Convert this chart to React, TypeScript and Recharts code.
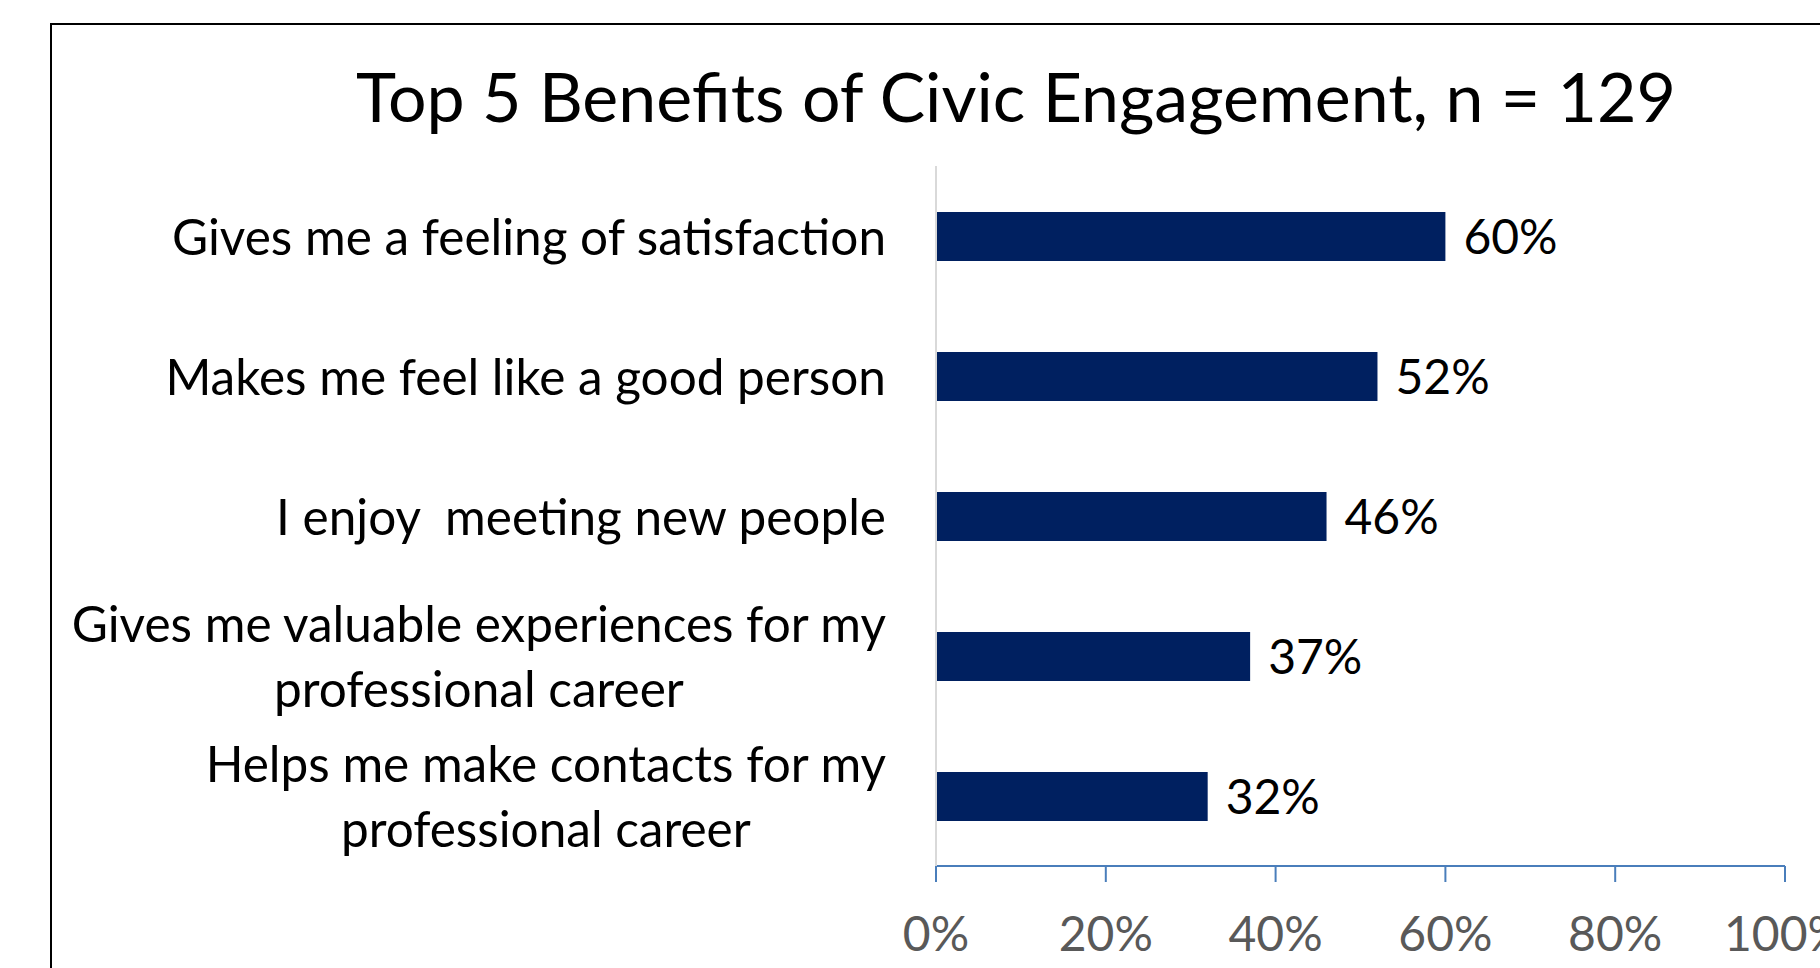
import React from 'react'
import { BarChart, Bar, XAxis, YAxis, LabelList } from 'recharts'

const categories = [
  'Gives me a feeling of satisfaction',
  'Makes me feel like a good person',
  'I enjoy  meeting new people',
  'Gives me valuable experiences for my\nprofessional career',
  'Helps me make contacts for my\nprofessional career',
]
const shares = [60, 52, 46, 37, 32]
const xTicks = [0, 20, 40, 60, 80, 100]

const FONT = 'Lato, "Open Sans", sans-serif'
const BAR_COLOR = '#002060'

const data = categories.map((name, i) => ({ name, value: shares[i] }))

const CategoryTick = (props: any) => {
  const { x, y, payload } = props
  return (
    <foreignObject x={x - 860} y={y - 80} width={860} height={160}>
      <div
        style={{
          display: 'flex',
          alignItems: 'center',
          justifyContent: 'flex-end',
          height: '100%',
          width: '100%',
        }}
      >
        <div
          style={{
            textAlign: 'center',
            whiteSpace: 'pre',
            fontFamily: FONT,
            fontSize: 49.5,
            lineHeight: '65px',
            color: '#000',
          }}
        >
          {payload.value}
        </div>
      </div>
    </foreignObject>
  )
}

export default function App() {
  return (
    <div
      style={{
        position: 'absolute',
        left: 0,
        top: 0,
        width: 1820,
        height: 968,
        overflow: 'hidden',
        background: '#fff',
        fontFamily: FONT,
      }}
    >
      <div
        style={{
          position: 'absolute',
          left: 50,
          top: 23,
          width: 1800,
          height: 1000,
          border: '2px solid #000',
        }}
      />
      <div
        style={{
          position: 'absolute',
          left: 316,
          top: 46,
          width: 1400,
          textAlign: 'center',
          fontSize: 68,
          lineHeight: '100px',
          color: '#000',
        }}
      >
        Top 5 Benefits of Civic Engagement, n = 129
      </div>
      <div style={{ position: 'absolute', left: 0, top: 0 }}>
        <BarChart
          width={1820}
          height={968}
          data={data}
          layout="vertical"
          margin={{ top: 166, right: 35, bottom: 0, left: 0 }}
        >
          <XAxis
            type="number"
            domain={[0, 100]}
            ticks={xTicks}
            tickFormatter={(v: number) => `${v}%`}
            height={102}
            stroke="#4a7ebb"
            axisLine={{ stroke: '#4a7ebb', strokeWidth: 2 }}
            tickLine={{ stroke: '#4a7ebb', strokeWidth: 2 }}
            tickSize={16}
            tickMargin={35}
            tick={{ fill: '#595959', fontSize: 48, fontFamily: FONT }}
            interval={0}
          />
          <YAxis
            type="category"
            dataKey="name"
            width={936}
            axisLine={{ stroke: '#d9d9d9', strokeWidth: 2 }}
            tickLine={false}
            tickSize={0}
            tickMargin={50}
            tick={<CategoryTick />}
            interval={0}
          />
          <Bar dataKey="value" fill={BAR_COLOR} barSize={49} isAnimationActive={false}>
            <LabelList
              dataKey="value"
              position="right"
              offset={18}
              formatter={(v: any) => `${v}%`}
              fill="#000"
              fontSize={48}
              fontFamily={FONT}
            />
          </Bar>
        </BarChart>
      </div>
    </div>
  )
}
